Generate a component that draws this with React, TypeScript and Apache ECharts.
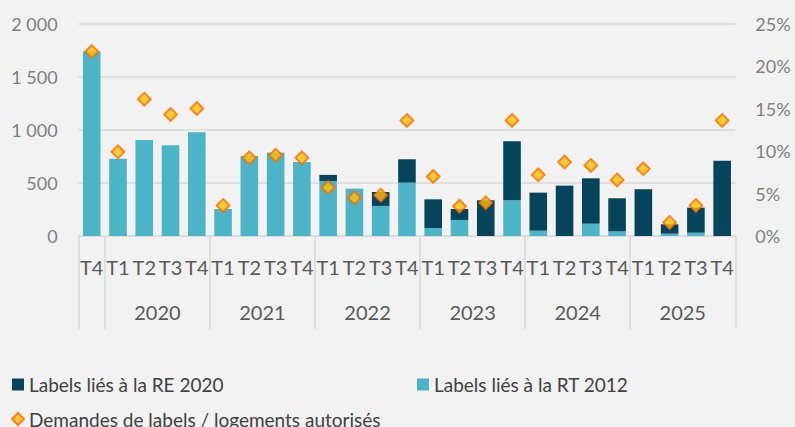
import React, { useEffect, useRef } from "react";
import * as echarts from "echarts";

// Data
const years = ["2019", "2020", "2020", "2020", "2020", "2021", "2021", "2021", "2021", "2022", "2022", "2022", "2022", "2023", "2023", "2023", "2023", "2024", "2024", "2024", "2024", "2025", "2025", "2025", "2025"];
const quarters = ["T4", "T1", "T2", "T3", "T4", "T1", "T2", "T3", "T4", "T1", "T2", "T3", "T4", "T1", "T2", "T3", "T4", "T1", "T2", "T3", "T4", "T1", "T2", "T3", "T4"];
const shownYears = ["2020", "2021", "2022", "2023", "2024", "2025"];
const rt2012 = [1736, 728, 904, 854, 977, 254, 754, 785, 697, 518, 446, 283, 502, 75, 151, 0, 336, 50, 0, 116, 44, 0, 22, 31, 0];
const re2020 = [0, 0, 0, 0, 0, 0, 0, 0, 0, 57, 0, 131, 220, 270, 103, 336, 556, 358, 474, 427, 311, 440, 88, 236, 709];
const ratio = [21.7, 9.9, 16.1, 14.3, 15.0, 3.6, 9.2, 9.5, 9.2, 5.7, 4.5, 4.8, 13.6, 7.0, 3.5, 3.9, 13.6, 7.2, 8.7, 8.3, 6.6, 7.9, 1.6, 3.6, 13.6];
const leftTicks = [0, 500, 1000, 1500, 2000];
const rightTicks = [0, 5, 10, 15, 20, 25];

const NAME_RE = "Labels liés à la RE 2020";
const NAME_RT = "Labels liés à la RT 2012";
const NAME_RATIO = "Demandes de labels / logements autorisés";

const FONT = "Lato, 'Open Sans', sans-serif";

export default function App() {
  const ref = useRef<HTMLDivElement>(null);

  useEffect(() => {
    document.body.style.margin = "0";
    document.body.style.background = "#F2F2F2";
    if (!ref.current) return;
    const chart = echarts.init(ref.current, undefined, { renderer: "svg" });

    // group boundaries (where the year changes) and centers of shown years
    const boundaries: number[] = [0];
    for (let i = 1; i < years.length; i++) if (years[i] !== years[i - 1]) boundaries.push(i);
    boundaries.push(years.length);
    const centers: Record<number, string> = {};
    const centerValues: number[] = [];
    for (let b = 0; b < boundaries.length - 1; b++) {
      const y = years[boundaries[b]];
      if (shownYears.includes(y)) {
        const c = (boundaries[b] + boundaries[b + 1]) / 2;
        centers[c] = y;
        centerValues.push(c);
      }
    }

    const fmtThousands = (v: number) => String(v).replace(/\B(?=(\d{3})+(?!\d))/g, " ");

    chart.setOption({
      animation: false,
      backgroundColor: "#F2F2F2",
      textStyle: { fontFamily: FONT },
      grid: { left: 78.6, right: 59.7, top: 23.5, bottom: 191, containLabel: false },
      legend: [
        {
          data: [NAME_RE],
          left: 12,
          top: 374.5,
          padding: 0,
          itemWidth: 12,
          itemHeight: 12,
          icon: "rect",
          textStyle: { fontFamily: FONT, fontSize: 19, color: "#404040", lineHeight: 20 },
        },
        {
          data: [NAME_RT],
          left: 417,
          top: 374.5,
          padding: 0,
          itemWidth: 12,
          itemHeight: 12,
          icon: "rect",
          textStyle: { fontFamily: FONT, fontSize: 19, color: "#404040", lineHeight: 20 },
        },
        {
          data: [NAME_RATIO],
          left: 11,
          top: 409,
          padding: 0,
          itemWidth: 12,
          itemHeight: 12,
          textStyle: { fontFamily: FONT, fontSize: 19, color: "#404040", lineHeight: 20 },
        },
      ],
      xAxis: [
        {
          type: "category",
          data: quarters,
          position: "bottom",
          axisLine: { show: true, lineStyle: { color: "#D9D9D9", width: 1.5 } },
          axisTick: { show: false },
          axisLabel: { interval: 0, fontSize: 20, color: "#595959", margin: 21, fontFamily: FONT },
          splitLine: { show: false },
        },
        {
          type: "value",
          min: 0,
          max: years.length,
          position: "bottom",
          axisLine: { show: false },
          splitLine: { show: false },
          axisTick: {
            show: true,
            customValues: boundaries,
            length: 93,
            lineStyle: { color: "#D9D9D9", width: 1.5 },
          },
          axisLabel: {
            show: true,
            customValues: centerValues,
            formatter: (v: number) => centers[v] || "",
            fontSize: 20,
            color: "#595959",
            margin: 66,
            fontFamily: FONT,
          },
        },
      ],
      yAxis: [
        {
          type: "value",
          min: leftTicks[0],
          max: leftTicks[leftTicks.length - 1],
          interval: leftTicks[1] - leftTicks[0],
          axisLine: { show: false },
          axisTick: { show: false },
          axisLabel: { fontSize: 18, color: "#7F7F7F", margin: 21, formatter: fmtThousands, fontFamily: FONT },
          splitLine: { show: true, lineStyle: { color: "#D9D9D9", width: 1.5 } },
        },
        {
          type: "value",
          min: rightTicks[0],
          max: rightTicks[rightTicks.length - 1],
          interval: rightTicks[1] - rightTicks[0],
          position: "right",
          axisLine: { show: false },
          axisTick: { show: false },
          axisLabel: { fontSize: 18, color: "#7F7F7F", margin: 20, formatter: (v: number) => v + "%", fontFamily: FONT },
          splitLine: { show: false },
        },
      ],
      series: [
        {
          name: NAME_RT,
          type: "bar",
          stack: "labels",
          data: rt2012,
          barCategoryGap: "33%",
          itemStyle: { color: "#4BB4C6" },
        },
        {
          name: NAME_RE,
          type: "bar",
          stack: "labels",
          data: re2020,
          barCategoryGap: "33%",
          itemStyle: { color: "#05445A" },
        },
        {
          name: NAME_RATIO,
          type: "scatter",
          yAxisIndex: 1,
          data: ratio,
          symbol: "diamond",
          symbolSize: [13, 13],
          itemStyle: { color: "#FFC000", borderColor: "#FF6600", borderWidth: 1.8 },
          z: 5,
        },
      ],
    });

    return () => chart.dispose();
  }, []);

  return (
    <div
      ref={ref}
      style={{ position: "fixed", left: 0, top: 0, width: 795, height: 427, background: "#F2F2F2" }}
    />
  );
}
